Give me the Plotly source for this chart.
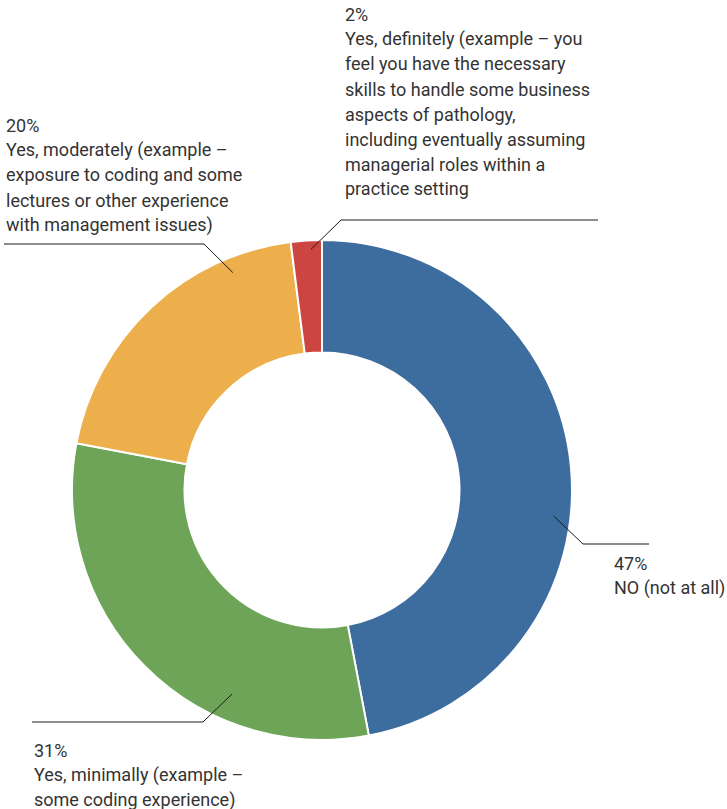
import math
import plotly.graph_objects as go

# Survey answers, in drawing order (clockwise from 12 o'clock)
labels = [
    "NO (not at all)",
    "Yes, minimally (example – some coding experience)",
    "Yes, moderately (example – exposure to coding and some lectures or other experience with management issues)",
    "Yes, definitely (example – you feel you have the necessary skills to handle some business aspects of pathology, including eventually assuming managerial roles within a practice setting",
]
values = [47, 31, 20, 2]
colors = ["#3d6c9e", "#6da457", "#edaf4b", "#cc4540"]

# Wrapped callout text for each slice
callout_lines = [
    ["47%", "NO (not at all)"],
    ["31%", "Yes, minimally (example –", "some coding experience)"],
    ["20%", "Yes, moderately (example –", "exposure to coding and some",
     "lectures or other experience", "with management issues)"],
    ["2%", "Yes, definitely (example – you", "feel you have the necessary",
     "skills to handle some business", "aspects of pathology,",
     "including eventually assuming", "managerial roles within a",
     "practice setting"],
]

W, H = 727, 809
CX, CY, R = 322, 490, 250  # donut centre and outer radius in pixels
HOLE = 0.55

# Leader geometry per slice: angle (deg clockwise from top) and radius of the
# point inside the slice, elbow point, end of horizontal run
leader_angle = [96.4, 203.8, 337.7, 357.4]
leader_radius = [233, 223, 235, 241]
leader_elbow = [(583, 544), (203, 722), (204, 244), (341, 220)]
leader_end_x = [649, 32, 4, 598]
# Top-left of each text block and line spacing
text_left = [612, 32, 4, 343]
text_first_y = [563, 750, 125, 14]
LINE_STEP = 25

FONT = "Roboto, Arial, sans-serif"


def px(x):
    return x / W


def py(y):
    return 1 - y / H


fig = go.Figure(
    go.Pie(
        labels=labels,
        values=values,
        marker=dict(colors=colors, line=dict(color="white", width=2)),
        hole=HOLE,
        sort=False,
        direction="clockwise",
        rotation=0,
        textinfo="none",
        hoverinfo="label+percent",
        showlegend=False,
        domain=dict(x=[px(CX - R), px(CX + R)], y=[py(CY + R), py(CY - R)]),
    )
)

shapes = []
annotations = []
for i in range(len(values)):
    a = math.radians(leader_angle[i])
    sx = CX + leader_radius[i] * math.sin(a)
    sy = CY - leader_radius[i] * math.cos(a)
    ex, ey = leader_elbow[i]
    line_style = dict(color="#1a1a1a", width=1)
    shapes.append(dict(type="line", xref="paper", yref="paper",
                       x0=px(sx), y0=py(sy), x1=px(ex), y1=py(ey), line=line_style))
    shapes.append(dict(type="line", xref="paper", yref="paper",
                       x0=px(ex), y0=py(ey), x1=px(leader_end_x[i]), y1=py(ey),
                       line=line_style))
    for k, txt in enumerate(callout_lines[i]):
        annotations.append(dict(
            text=txt, xref="paper", yref="paper",
            x=px(text_left[i]), y=py(text_first_y[i] + k * LINE_STEP),
            xanchor="left", yanchor="middle", showarrow=False,
            font=dict(family=FONT, size=18, color="#333333", weight=400),
        ))

fig.update_layout(
    width=W, height=H,
    margin=dict(l=0, r=0, t=0, b=0),
    paper_bgcolor="white",
    plot_bgcolor="white",
    shapes=shapes,
    annotations=annotations,
)

fig.write_html("out.html")
